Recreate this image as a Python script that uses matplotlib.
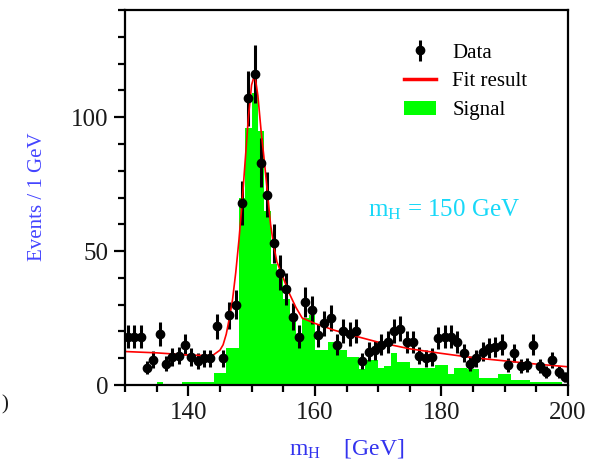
import numpy as np
import matplotlib
matplotlib.use("Agg")
import matplotlib.pyplot as plt
from matplotlib.patches import Patch
from matplotlib.lines import Line2D

plt.rcParams['font.family'] = ['Liberation Serif', 'DejaVu Serif']
plt.rcParams['mathtext.fontset'] = 'custom'
plt.rcParams['mathtext.rm'] = 'Liberation Serif'
plt.rcParams['mathtext.it'] = 'Liberation Serif:italic'

# data points, 1 GeV bins (centres)
mass = np.arange(130.5, 200, 1.0)
events = [18, 18, 18, 6.5, 9.5, 19, 8, 10.5, 11, 15,
          10.5, 9, 10, 10, 22, 10, 26, 30, 68, 107,
          116, 83, 71, 53, 42, 36, 25.5, 18, 31, 28,
          18.5, 23, 25, 15, 20, 19, 20, 9, 12.5, 13,
          15, 16, 20, 21, 16, 16, 11, 10, 10.5, 17.5,
          18, 18, 16, 12, 8, 10, 12.4, 13.8, 14.3, 15,
          7.5, 12, 7, 7.5, 15, 7, 5, 9.3, 5, 3]

# signal histogram, bin edges
sig_edges = np.arange(130, 201, 1.0)
signal = [0, 0, 0, 0, 0, 1, 0, 0, 0, 1.2,
          1.2, 1.2, 1.2, 1.2, 4.5, 4.5, 14, 14, 70, 96,
          109, 95, 65, 45, 42, 32, 24, 18, 25, 26,
          13, 13, 16, 14, 13, 10.5, 10.5, 6, 9.3, 9.3,
          6.3, 7, 12, 8.6, 8.6, 6.3, 6.3, 6.3, 6.3, 7.5,
          7.5, 4, 6.3, 6.3, 6, 6, 2.6, 2.6, 2.6, 4,
          4, 2, 2, 2, 1, 1, 1, 1, 1, 0.5]

# fit curve
fit_m = [130, 135, 140, 143, 144, 145, 145.5, 146, 146.5, 147,
         147.5, 148, 148.5, 149, 149.5, 150, 150.5, 151, 151.5, 152,
         152.5, 153, 153.5, 154, 155, 156, 157, 158, 160, 163,
         166, 170, 175, 180, 185, 190, 195, 200]
fit_y = [12.5, 12, 11.2, 11, 11.3, 13, 15, 19, 25, 32,
         42, 54, 68, 84, 100, 112, 116, 108, 95, 84,
         72, 60, 52, 46, 40, 34, 29, 25, 23, 20.5,
         18.5, 16, 13.5, 11.8, 10.2, 9, 7.8, 6.8]

fig = plt.figure(figsize=(6.01, 4.63), dpi=100)
ax = fig.add_axes([125/601, 78/463, 443/601, 375/463])

ax.stairs(signal, sig_edges, fill=True, color='#00ff00', linewidth=0)
ax.errorbar(mass, events, yerr=np.sqrt(events), fmt='o', color='black',
            ms=6, elinewidth=2.2, capsize=0)
ax.plot(fit_m, fit_y, color='red', lw=1.2)

ax.set_xlim(130, 200)
ax.set_ylim(0, 140)
ax.set_xticks([140, 160, 180, 200])
ax.set_xticks(np.arange(130, 201, 5), minor=True)
ax.set_yticks([0, 50, 100])
ax.set_yticks(np.arange(0, 141, 10), minor=True)
ax.tick_params(which='major', direction='out', length=8, width=1.6,
               labelsize=18, labelcolor='#1a1a1a', pad=4)
ax.tick_params(which='minor', direction='out', length=5, width=1.6)
for s in ax.spines.values():
    s.set_linewidth(1.6)

hb = ax.errorbar([], [], yerr=[], fmt='o', color='black', ms=6,
                 elinewidth=2.2, capsize=0)
fit_h = Line2D([], [], color='red', lw=2.5)
sig_h = Patch(facecolor='#00ff00', edgecolor='none')
leg = ax.legend([hb, fit_h, sig_h], ['Data', 'Fit result', 'Signal'],
                loc='upper left', bbox_to_anchor=(0.607, 0.94), frameon=False,
                fontsize=15, handlelength=1.5, handletextpad=0.8,
                labelspacing=0.45, borderpad=0)

ax.text(0.72, 0.468, r'm$_{\mathregular{H}}$ = 150 GeV', transform=ax.transAxes,
        color='#18d8f8', fontsize=18, ha='center', va='center')

fig.text(37/601, 1 - 197/463, 'Events / 1 GeV', rotation=90, color='#4444ff',
         fontsize=15, ha='center', va='center')
fig.text(347/601, 1 - 448/463, r'm$_{\mathregular{H}}$    [GeV]', color='#3333ee',
         fontsize=17, ha='center', va='center')
fig.text(1/601, 1 - 405/463, ')', fontsize=15, color='#1a1a1a', ha='left', va='center')

fig.savefig('out.png', dpi=100)
